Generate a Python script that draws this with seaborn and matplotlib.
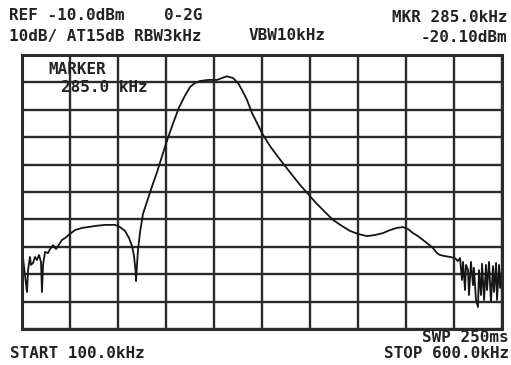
import matplotlib
matplotlib.use("Agg")
import matplotlib.pyplot as plt
import seaborn as sns
import pandas as pd

# ---- data ----
freq_khz = [100.0, 101.0, 103.1, 105.2, 106.3, 108.3, 109.4, 111.5, 113.5, 115.6,
            117.7, 119.8, 120.8, 121.9, 124.0, 127.1, 129.2, 132.3, 135.4, 137.5,
            141.7, 144.8, 150.0, 155.2, 162.5, 168.8, 176.0, 186.5, 196.9, 202.0,
            207.3, 211.5, 214.6, 216.7, 218.2, 218.8, 219.8, 220.8, 223.0, 226.0,
            230.2, 235.4, 240.6, 245.8, 251.0, 257.3, 263.5, 269.8, 275.0, 280.2,
            285.4, 293.8, 303.0, 308.3, 313.5, 319.8, 325.0, 329.2, 334.4, 339.6,
            344.8, 350.0, 358.3, 366.7, 374.0, 382.3, 389.6, 397.9, 406.3, 415.6,
            424.0, 433.3, 441.7, 450.0, 459.4, 467.7, 476.0, 483.3, 490.6, 496.9,
            502.0, 507.3, 512.5, 517.7, 523.0, 528.0, 532.3, 535.4, 540.6, 545.8,
            551.0, 554.0, 556.3, 558.3, 559.4, 561.5, 562.5, 564.6, 565.6, 567.7,
            569.8, 570.8, 572.9, 575.0, 576.0, 578.1, 579.2, 581.3, 583.3, 584.4,
            586.5, 588.5, 590.6, 591.7, 593.8, 594.8, 596.9, 598.0, 600.0]
level_dbm = [-84.8, -84.0, -90.3, -96.5, -88.5, -83.7, -86.6, -85.9, -83.7, -84.8,
             -83.0, -85.5, -96.5, -86.6, -81.9, -82.3, -80.8, -79.4, -80.8, -79.7,
             -77.5, -76.8, -75.3, -73.9, -73.1, -72.8, -72.4, -72.0, -72.0, -72.8,
             -74.2, -76.8, -79.7, -83.4, -88.5, -92.5, -86.6, -81.2, -74.6, -68.0,
             -63.5, -58.0, -52.8, -47.0, -41.3, -35.0, -29.2, -24.8, -21.7, -20.2,
             -19.5, -19.1, -19.1, -18.4, -17.8, -18.4, -20.2, -22.8, -26.4, -31.2,
             -34.8, -38.5, -43.2, -47.2, -50.5, -54.2, -57.4, -60.7, -64.0, -67.3,
             -70.2, -72.4, -74.2, -75.3, -76.1, -75.7, -75.0, -73.9, -73.1, -72.8,
             -73.5, -75.0, -76.1, -77.5, -79.0, -80.4, -82.3, -83.0, -83.4, -83.7,
             -84.1, -85.2, -84.1, -92.1, -85.5, -95.8, -86.6, -88.5, -97.6, -85.5,
             -94.0, -87.7, -99.4, -102.0, -88.5, -97.6, -86.2, -99.4, -86.6, -95.8,
             -85.5, -100.1, -87.0, -96.5, -85.9, -99.4, -86.6, -95.0, -87.7]

x_ticks = [100, 150, 200, 250, 300, 350, 400, 450, 500, 550, 600]
y_ticks = [-110, -100, -90, -80, -70, -60, -50, -40, -30, -20, -10]

header_left_1 = "REF -10.0dBm"
header_mode = "0-2G"
header_left_2 = "10dB/ AT15dB RBW3kHz"
header_vbw = "VBW10kHz"
marker_freq_text = "MKR 285.0kHz"
marker_level_text = "-20.10dBm"
marker_box_1 = "MARKER"
marker_box_2 = "285.0 kHz"
sweep_text = "SWP 250ms"
start_text = "START 100.0kHz"
stop_text = "STOP 600.0kHz"

df = pd.DataFrame({"freq": freq_khz, "level": level_dbm})

sns.set_style("white")
plt.rcParams["font.family"] = ["DejaVu Sans Mono", "DejaVu Sans"]

W, H = 511, 365
fig = plt.figure(figsize=(W / 100, H / 100), dpi=100)
fig.patch.set_facecolor("white")
ax = fig.add_axes([22 / W, 1 - 329 / H, 480 / W, 274 / H])

sns.lineplot(data=df, x="freq", y="level", ax=ax, color="#151515",
             linewidth=1.3, sort=False)

ax.set_xlim(100, 600)
ax.set_ylim(-110, -10)
ax.set_xticks(x_ticks)
ax.set_yticks(y_ticks)
ax.set_xticklabels([])
ax.set_yticklabels([])
ax.tick_params(length=0)
ax.set_xlabel("")
ax.set_ylabel("")
ax.grid(True, color="#2b2b2b", linewidth=1.7)
ax.set_axisbelow(True)
for s in ax.spines.values():
    s.set_color("#2b2b2b")
    s.set_linewidth(2.2)

def px(x, y):
    return x / W, 1 - y / H

tk = dict(fontsize=11.5, fontweight="bold", color="#222222", va="center")
fig.text(*px(9, 16), header_left_1, ha="left", **tk)
fig.text(*px(164, 16), header_mode, ha="left", **tk)
fig.text(*px(9, 36), header_left_2, ha="left", **tk)
fig.text(*px(249, 36), header_vbw, ha="left", **tk)
fig.text(*px(508, 17), marker_freq_text, ha="right", **tk)
fig.text(*px(507, 37), marker_level_text, ha="right", **tk)
fig.text(*px(509, 338), sweep_text, ha="right", **tk)
fig.text(*px(10, 353), start_text, ha="left", **tk)
fig.text(*px(509, 353), stop_text, ha="right", **tk)

fig.text(*px(48, 70), marker_box_1, ha="left", **tk)
fig.text(*px(61, 88), marker_box_2, ha="left", **tk)

fig.savefig("out.png", dpi=100, facecolor="white")
